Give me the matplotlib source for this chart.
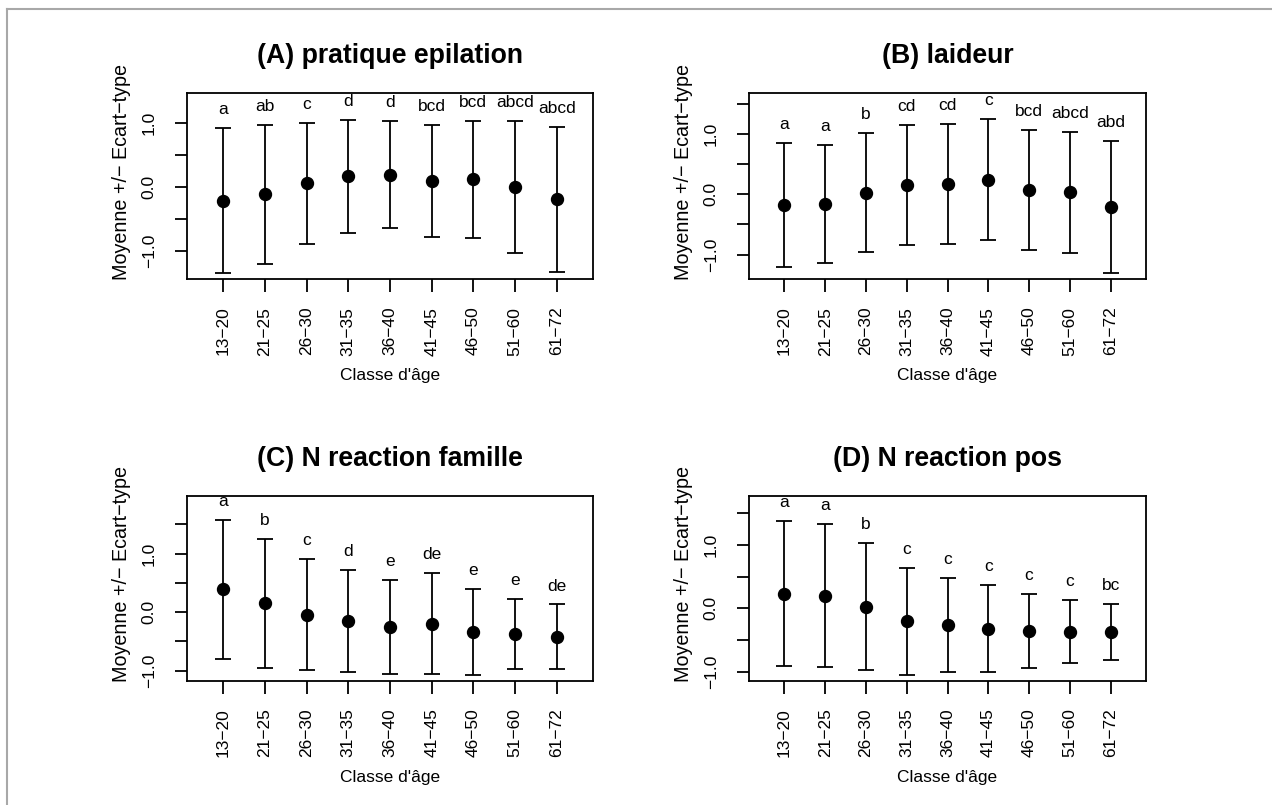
#!/usr/bin/env python3

import numpy as np
import matplotlib
matplotlib.use("Agg")
import matplotlib.pyplot as plt
from matplotlib.lines import Line2D

plt.rcParams["font.family"] = ["Liberation Sans", "DejaVu Sans"]

# age classes on the x axis
age_classes = ["13\u221220", "21\u221225", "26\u221230", "31\u221235", "36\u221240",
               "41\u221245", "46\u221250", "51\u221260", "61\u221272"]

# (A) pratique epilation
means_A = [-0.217, -0.122, 0.049, 0.161, 0.185, 0.092, 0.112, 0.000, -0.198]
sd_A = [1.128, 1.086, 0.946, 0.880, 0.836, 0.878, 0.909, 1.031, 1.130]
letters_A = ["a", "ab", "c", "d", "d", "bcd", "bcd", "abcd", "abcd"]

# (B) laideur
means_B = [-0.172, -0.161, 0.028, 0.155, 0.171, 0.244, 0.078, 0.036, -0.210]
sd_B = [1.028, 0.984, 0.989, 0.995, 0.989, 1.006, 0.995, 1.003, 1.088]
letters_B = ["a", "a", "b", "cd", "cd", "c", "bcd", "abcd", "abd"]

# (C) N reaction famille
means_C = [0.389, 0.154, -0.043, -0.149, -0.254, -0.200, -0.340, -0.374, -0.420]
sd_C = [1.189, 1.103, 0.952, 0.869, 0.803, 0.863, 0.729, 0.603, 0.551]
letters_C = ["a", "b", "c", "d", "e", "de", "e", "e", "de"]

# (D) N reaction pos
means_D = [0.234, 0.203, 0.026, -0.203, -0.263, -0.318, -0.358, -0.368, -0.377]
sd_D = [1.140, 1.124, 1.005, 0.845, 0.737, 0.687, 0.584, 0.500, 0.440]
letters_D = ["a", "a", "b", "c", "c", "c", "c", "c", "bc"]

W, H = 1272, 805
FS = 12.5


def px_rect(left, top, right, bottom):
    return [left / W, 1 - bottom / H, (right - left) / W, (bottom - top) / H]


def draw_panel(fig, box, title, means, sds, letters, ylim):
    ax = fig.add_axes(px_rect(*box))
    w_px = box[2] - box[0]
    h_px = box[3] - box[1]
    x = np.arange(1, len(means) + 1)
    ax.errorbar(x, means, yerr=sds, fmt="o", color="black", ms=8.6,
                capsize=6, elinewidth=1.3, capthick=1.3)
    for xi, m, s, lab in zip(x, means, sds, letters):
        ax.annotate(lab, (xi, m + s), xytext=(0, 10), textcoords="offset points",
                    ha="center", va="baseline", fontsize=FS)

    ax.set_xlim(0.14, 9.86)
    ax.set_ylim(*ylim)
    ax.set_xticks(x)
    ax.set_xticklabels(age_classes, rotation=90)
    yt = np.arange(-1.0, ylim[1], 0.5)
    ax.set_yticks(yt)
    ax.set_yticklabels(["{0:.1f}".format(v).replace("-", "\u2212") if v == round(v) else ""
                        for v in yt], rotation=90, va="center")
    ax.tick_params(axis="both", length=9, width=1.3, labelsize=FS)
    ax.tick_params(axis="x", pad=10.7)
    ax.tick_params(axis="y", pad=13)
    for sp in ax.spines.values():
        sp.set_linewidth(1.3)

    ax.set_title(title, fontsize=19.2, fontweight="bold", pad=21.6)
    ax.set_xlabel("Classe d'\u00e2ge", fontsize=FS)
    ax.xaxis.set_label_coords(0.5, -96.5 / h_px)
    ax.xaxis.label.set_verticalalignment("center")
    ax.set_ylabel("Moyenne +/\u2212 Ecart\u2212type", fontsize=14.2)
    ax.yaxis.set_label_coords(-56.0 / w_px, 0.575)
    return ax


def main():
    fig = plt.figure(figsize=(W / 100, H / 100), dpi=100)

    draw_panel(fig, (187.3, 93.3, 592.7, 279.3), "(A) pratique epilation",
               means_A, sd_A, letters_A, (-1.448, 1.458))
    draw_panel(fig, (749.3, 93.3, 1145.7, 279.3), "(B) laideur",
               means_B, sd_B, letters_B, (-1.409, 1.674))
    draw_panel(fig, (187.3, 495.7, 592.7, 681.0), "(C) N reaction famille",
               means_C, sd_C, letters_C, (-1.177, 1.99))
    draw_panel(fig, (749.3, 495.7, 1145.7, 681.0), "(D) N reaction pos",
               means_D, sd_D, letters_D, (-1.147, 1.779))

    # grey frame on the top and left edges
    fig.add_artist(Line2D([7 / W, 7 / W], [0, 1 - 9.5 / H], color="#a8a8a8", lw=1.5))
    fig.add_artist(Line2D([7 / W, 1], [1 - 9.5 / H, 1 - 9.5 / H], color="#a8a8a8", lw=1.5))

    fig.savefig("out.png", dpi=100)


if __name__ == '__main__':
    main()
